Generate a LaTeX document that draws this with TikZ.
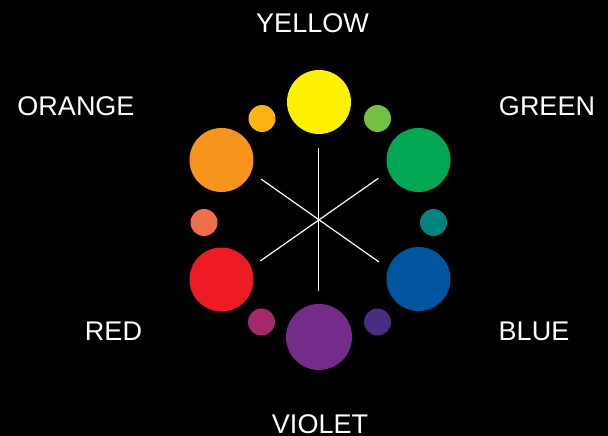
\documentclass[tikz,border=0pt]{standalone}
\usepackage{fontspec}
\setmainfont{Liberation Sans}
\definecolor{cyellow}{HTML}{FFF200}
\definecolor{corange}{HTML}{F7941D}
\definecolor{cgreen}{HTML}{00A651}
\definecolor{cblue}{HTML}{0055A0}
\definecolor{cred}{HTML}{ED1C24}
\definecolor{cviolet}{HTML}{732C8A}
\definecolor{cyo}{HTML}{FDB515}
\definecolor{cyg}{HTML}{72BF44}
\definecolor{cteal}{HTML}{00827F}
\definecolor{cindigo}{HTML}{4B2E84}
\definecolor{cmagenta}{HTML}{A3286C}
\definecolor{cro}{HTML}{F1704B}
\begin{document}
\begin{tikzpicture}[x=1pt,y=-1pt,
  big/.style={circle,inner sep=0pt,minimum size=64pt,draw=none},
  small/.style={circle,inner sep=0pt,minimum size=27pt,draw=none},
  lbl/.style={text=white,font=\fontsize{27}{30}\selectfont,anchor=base,inner sep=0pt},
  spoke/.style={white,line width=1.2pt}]
\fill[black] (0,0) rectangle (608,436);
\useasboundingbox (0,0) rectangle (608,436);
% big circles
\node[big,fill=cyellow] (yellow) at (319,102) {};
\node[big,fill=cgreen] (green) at (418.5,160) {};
\node[big,fill=cblue] (blue) at (418.5,279) {};
\node[big,fill=cviolet,minimum size=66pt] (violet) at (319,337) {};
\node[big,fill=cred] (red) at (221.5,279.5) {};
\node[big,fill=corange] (orange) at (221.5,160) {};
% small circles
\node[small,fill=cyo] (yo) at (262,118.5) {};
\node[small,fill=cyg] (yg) at (377.5,118.5) {};
\node[small,fill=cteal] (teal) at (433.5,222.5) {};
\node[small,fill=cindigo] (indigo) at (377.5,322) {};
\node[small,fill=cmagenta] (magenta) at (261.5,322) {};
\node[small,fill=cro] (ro) at (204,222.5) {};
% spokes
\coordinate (c) at (318.5,220.5);
\coordinate (n) at (318.5,147.7);
\coordinate (s) at (318.5,291);
\coordinate (nw) at (261,179);
\coordinate (ne) at (378.3,178.3);
\coordinate (sw) at (260.3,261);
\coordinate (se) at (379,262);
\draw[spoke] (n) -- (s);
\draw[spoke] (nw) -- (se);
\draw[spoke] (ne) -- (sw);
% labels
\node[lbl] (tyellow) at (312.5,33) {YELLOW};
\node[lbl] (torange) at (76,115) {ORANGE};
\node[lbl] (tgreen) at (547,115) {GREEN};
\node[lbl] (tred) at (113.5,340) {RED};
\node[lbl] (tblue) at (534,340) {BLUE};
\node[lbl] (tviolet) at (320,433) {VIOLET};
\end{tikzpicture}
\end{document}
